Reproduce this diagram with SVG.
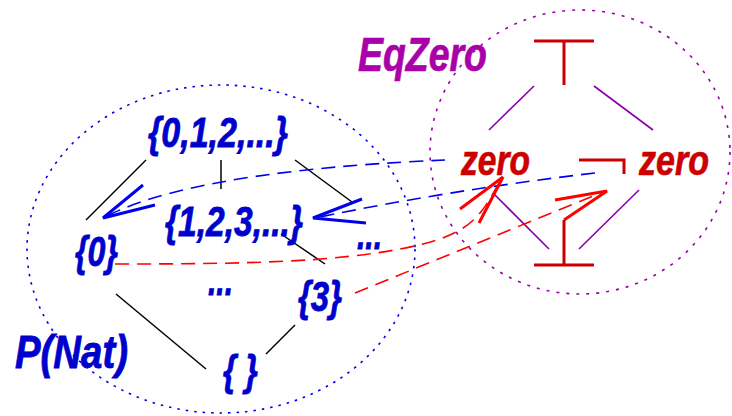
<svg xmlns="http://www.w3.org/2000/svg" width="732" height="416" viewBox="0 0 732 416">
<style>
text{font-family:"Liberation Sans",Arial,sans-serif;font-weight:bold;font-style:italic}
.b{fill:#0000cc;stroke:#0000cc;stroke-width:0.8;font-size:42px}
.r{fill:#cc0000;stroke:#cc0000;stroke-width:0.7;font-size:43px}
.p{fill:#aa00aa;stroke:#aa00aa;stroke-width:0.7;font-size:48px}
.h{stroke:#000;stroke-width:1.5;fill:none}
.pl{stroke:#8a00aa;stroke-width:1.6;fill:none}
.bd{stroke:#0000ee;stroke-width:1.6;fill:none;stroke-dasharray:14 8}
.rd{stroke:#ff0000;stroke-width:1.6;fill:none;stroke-dasharray:14 8}
.ba{stroke:#0000ee;stroke-width:3;fill:none}
.ra{stroke:#ff0000;stroke-width:3;fill:none}
.sym{stroke:#cc0000;stroke-width:3;fill:none}
</style>
<g id="ellipses">
<ellipse cx="221" cy="249" rx="194" ry="164" fill="none" stroke="#0000ee" stroke-width="1.6" stroke-dasharray="2.5 6"/>
<ellipse cx="580" cy="152" rx="150" ry="142" fill="none" stroke="#9900aa" stroke-width="1.6" stroke-dasharray="3 7"/>
</g>
<g id="labels">
<text class="b" x="15" y="368" style="font-size:46px" textLength="113" lengthAdjust="spacingAndGlyphs">P(Nat)</text>
<text class="p" x="358" y="71" textLength="129" lengthAdjust="spacingAndGlyphs">EqZero</text>
</g>
<g id="connectors">
<line class="h" x1="146" y1="160" x2="86" y2="220"/>
<line class="h" x1="221" y1="160" x2="221" y2="189"/>
<line class="h" x1="295" y1="160" x2="352" y2="202"/>
<line class="h" x1="281" y1="234" x2="325" y2="264"/>
<line class="h" x1="116" y1="294" x2="206" y2="369"/>
<line class="h" x1="295" y1="325" x2="266" y2="354"/>
<line class="pl" x1="534" y1="86" x2="489" y2="130"/>
<line class="pl" x1="594" y1="86" x2="653" y2="130"/>
<line class="pl" x1="493" y1="193" x2="549" y2="249"/>
<line class="pl" x1="639" y1="190" x2="579" y2="249"/>
<path class="bd" d="M445,160 C330,165 180,178 105,217"/>
<polyline class="ba" points="143,185 103,218 155,205"/>
<path class="bd" d="M595,173 Q450,190 315,218"/>
<polyline class="ba" points="362,199 313,218 366,223"/>
<path class="rd" d="M115,264 C250,264 330,262 400,249 S480,218 500,181"/>
<polyline class="ra" points="460,209 503,177 479,223"/>
<path class="rd" d="M355,293 L603,192"/>
<polyline class="ra" points="555,200 607,191 564,220"/>
</g>
<g id="n-top"><text class="b" x="148" y="147" textLength="140" lengthAdjust="spacingAndGlyphs">{0,1,2,...}</text></g>
<g id="n-n1"><text class="b" x="165" y="236" textLength="138" lengthAdjust="spacingAndGlyphs">{1,2,3,...}</text></g>
<g id="n-0"><text class="b" x="75" y="266" textLength="43" lengthAdjust="spacingAndGlyphs">{0}</text></g>
<g id="n-dots1"><text class="b" x="357" y="249" textLength="25" lengthAdjust="spacingAndGlyphs">...</text></g>
<g id="n-dots2"><text class="b" x="208" y="295" textLength="25" lengthAdjust="spacingAndGlyphs">...</text></g>
<g id="n-3"><text class="b" x="298" y="311" textLength="44" lengthAdjust="spacingAndGlyphs">{3}</text></g>
<g id="n-empty"><text class="b" x="223" y="385" textLength="35" lengthAdjust="spacingAndGlyphs">{ }</text></g>
<g id="e-top"><path class="sym" d="M534,41 H594 M564,41 V85"/></g>
<g id="e-zero"><text class="r" x="461" y="175" textLength="69" lengthAdjust="spacingAndGlyphs">zero</text></g>
<g id="e-notzero"><path class="sym" d="M579,160 H624 V174"/><text class="r" x="639" y="175" textLength="70" lengthAdjust="spacingAndGlyphs">zero</text></g>
<g id="e-bot"><path class="sym" d="M534,265 H594 M564,220 V265"/></g>
</svg>
